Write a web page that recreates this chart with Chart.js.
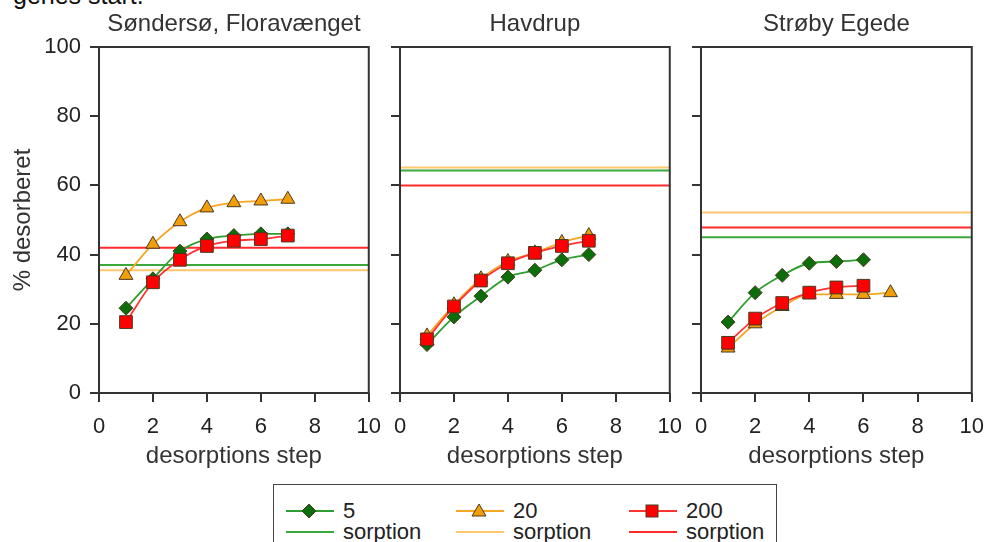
<!DOCTYPE html>
<html>
<head>
<meta charset="utf-8">
<script src="https://cdn.jsdelivr.net/npm/chart.js@4.4.1/dist/chart.umd.min.js"></script>
<style>
  html, body { margin: 0; padding: 0; background: #fff; }
  body { width: 986px; height: 542px; position: relative; overflow: hidden; font-family: "Liberation Sans", Arial, sans-serif; }
  .panel { position: absolute; top: 0; height: 475px; }
  .cut { position: absolute; left: 13px; top: -17px; font-size: 25px; line-height: 25px; color: #111; }
  .legend { position: absolute; left: 273px; top: 484px; width: 504px; height: 70px; border: 1.5px solid #444; box-sizing: border-box; }
  .item { position: absolute; font-size: 22px; line-height: 22px; color: #222; }
  .item svg { position: absolute; left: 0; top: 0; }
  .item span { position: absolute; left: 58px; top: 0; white-space: nowrap; }
</style>
</head>
<body>
<div class="cut">geries start.</div>

<div class="panel" style="left:0;width:393px"><canvas id="c1"></canvas></div>
<div class="panel" style="left:380px;width:314px"><canvas id="c2"></canvas></div>
<div class="panel" style="left:681px;width:315px"><canvas id="c3"></canvas></div>

<div class="legend" id="legend"></div>

<script>
// desorption steps and axis ticks
const steps = [1, 2, 3, 4, 5, 6, 7];
const xTicks = [0, 2, 4, 6, 8, 10];
const yTicks = [0, 20, 40, 60, 80, 100];
const seriesNames = ['5', '20', '200'];

// Søndersø, Floravænget
const sonderso5 = [24.5, 33, 41, 44.5, 45.5, 46, 46];
const sonderso20 = [34, 43, 49.5, 53.5, 55, 55.5, 56];
const sonderso200 = [20.5, 32, 38.5, 42.5, 44, 44.5, 45.5];
const sondersoSorption = [37, 35.5, 42];

// Havdrup
const havdrup5 = [14, 22, 28, 33.5, 35.5, 38.5, 40];
const havdrup20 = [16.5, 25.5, 33, 38, 40.5, 43.5, 45.5];
const havdrup200 = [15.5, 25, 32.5, 37.5, 40.5, 42.5, 44];
const havdrupSorption = [64.3, 65.2, 60];

// Strøby Egede
const stroby5 = [20.5, 29, 34, 37.5, 38, 38.5];
const stroby20 = [13, 20, 25, 28.5, 28.5, 28.5, 29];
const stroby200 = [14.5, 21.5, 26, 29, 30.5, 31];
const strobySorption = [45, 52.2, 47.8];

const styles = [
  { line: '#2e9e2e', fill: '#0b6e0b', sorp: '#3aa83a', shape: 'rectRot', r: 7 },
  { line: '#f5a623', fill: '#f29d0a', sorp: '#ffc66e', shape: 'triangle', r: 8 },
  { line: '#ff3333', fill: '#ff0000', sorp: '#ff2a2a', shape: 'rect', r: 9 }
];

const FONT = '"Liberation Sans", Arial, sans-serif';
const INK = '#333';

// box around the plot area
const framePlugin = {
  id: 'frame',
  afterDatasetsDraw(chart) {
    const { ctx, chartArea: a } = chart;
    ctx.save();
    ctx.strokeStyle = INK;
    ctx.lineWidth = 2;
    ctx.strokeRect(a.left, a.top, a.right - a.left, a.bottom - a.top);
    ctx.restore();
  }
};

function makePanel(id, title, values, sorption, opts) {
  const datasets = [];
  sorption.forEach((s, i) => {
    datasets.push({
      label: seriesNames[i] + ' sorption',
      data: [{ x: xTicks[0], y: s }, { x: xTicks[xTicks.length - 1], y: s }],
      borderColor: styles[i].sorp,
      borderWidth: 2,
      pointRadius: 0,
      order: 10 + i
    });
  });
  values.forEach((vals, i) => {
    const st = styles[i];
    datasets.push({
      label: seriesNames[i],
      data: vals.map((v, k) => ({ x: steps[k], y: v })),
      borderColor: st.line,
      borderWidth: 1.8,
      backgroundColor: st.fill,
      pointBackgroundColor: st.fill,
      pointBorderColor: '#4a3a20',
      pointBorderWidth: 1,
      pointStyle: st.shape,
      pointRadius: st.r,
      cubicInterpolationMode: 'monotone',
      order: 2 - i
    });
  });

  return new Chart(document.getElementById(id), {
    type: 'line',
    data: { datasets },
    options: {
      responsive: true,
      maintainAspectRatio: false,
      animation: false,
      // right edge is set by the x scale's own label padding ("10" + tick padding)
      layout: { padding: 0 },
      plugins: {
        legend: { display: false },
        tooltip: { enabled: false },
        title: {
          display: true,
          text: title,
          fullSize: false,
          color: INK,
          font: { family: FONT, size: 24, weight: 'normal', lineHeight: 1 },
          padding: { top: 12, bottom: 11 }
        }
      },
      scales: {
        x: {
          type: 'linear',
          min: xTicks[0],
          max: xTicks[xTicks.length - 1],
          afterBuildTicks: s => { s.ticks = xTicks.map(v => ({ value: v })); },
          afterFit: s => { s.height = 82; },
          border: { display: false },
          grid: { drawOnChartArea: false, color: INK, lineWidth: 2, tickLength: 9 },
          ticks: { color: '#222', padding: 12, maxRotation: 0, font: { family: FONT, size: 22 } },
          title: {
            display: true,
            text: 'desorptions step',
            color: INK,
            font: { family: FONT, size: 24 },
            padding: { top: 0, bottom: 4 }
          }
        },
        y: {
          min: yTicks[0],
          max: yTicks[yTicks.length - 1],
          afterBuildTicks: s => { s.ticks = yTicks.map(v => ({ value: v })); },
          afterFit: s => { s.width = opts.yWidth; },
          border: { display: false },
          grid: { drawOnChartArea: false, color: INK, lineWidth: 2, tickLength: 9 },
          ticks: { display: opts.yLabels, color: '#222', padding: 9, font: { family: FONT, size: 22 } },
          title: {
            display: opts.yLabels,
            text: '% desorberet',
            color: INK,
            font: { family: FONT, size: 24 },
            padding: { top: 9, bottom: 0 }
          }
        }
      }
    },
    plugins: [framePlugin]
  });
}

makePanel('c1', 'Søndersø, Floravænget', [sonderso5, sonderso20, sonderso200], sondersoSorption,
  { yWidth: 99, yLabels: true });
makePanel('c2', 'Havdrup', [havdrup5, havdrup20, havdrup200], havdrupSorption,
  { yWidth: 20, yLabels: false });
makePanel('c3', 'Strøby Egede', [stroby5, stroby20, stroby200], strobySorption,
  { yWidth: 20, yLabels: false });

// legend: marker line + sorption line for each series
const legend = document.getElementById('legend');
const cols = [11, 181, 354];
styles.forEach((st, i) => {
  let mark = '';
  if (st.shape === 'rectRot') mark = `<polygon points="24,4 31,11 24,18 17,11" fill="${st.fill}" stroke="#4a3a20" stroke-width="1"/>`;
  if (st.shape === 'triangle') mark = `<polygon points="24,4 31,16 17,16" fill="${st.fill}" stroke="#4a3a20" stroke-width="1"/>`;
  if (st.shape === 'rect') mark = `<rect x="18" y="5" width="12" height="12" fill="${st.fill}" stroke="#4a3a20" stroke-width="1"/>`;
  const a = document.createElement('div');
  a.className = 'item';
  a.style.left = cols[i] + 'px';
  a.style.top = '15px';
  a.innerHTML = `<svg width="52" height="22"><line x1="1" y1="11" x2="49" y2="11" stroke="${st.line}" stroke-width="2"/>${mark}</svg><span>${seriesNames[i]}</span>`;
  legend.appendChild(a);
  const b = document.createElement('div');
  b.className = 'item';
  b.style.left = cols[i] + 'px';
  b.style.top = '36px';
  b.innerHTML = `<svg width="52" height="22"><line x1="1" y1="11" x2="49" y2="11" stroke="${st.sorp}" stroke-width="2"/></svg><span>sorption</span>`;
  legend.appendChild(b);
});
</script>
</body>
</html>
